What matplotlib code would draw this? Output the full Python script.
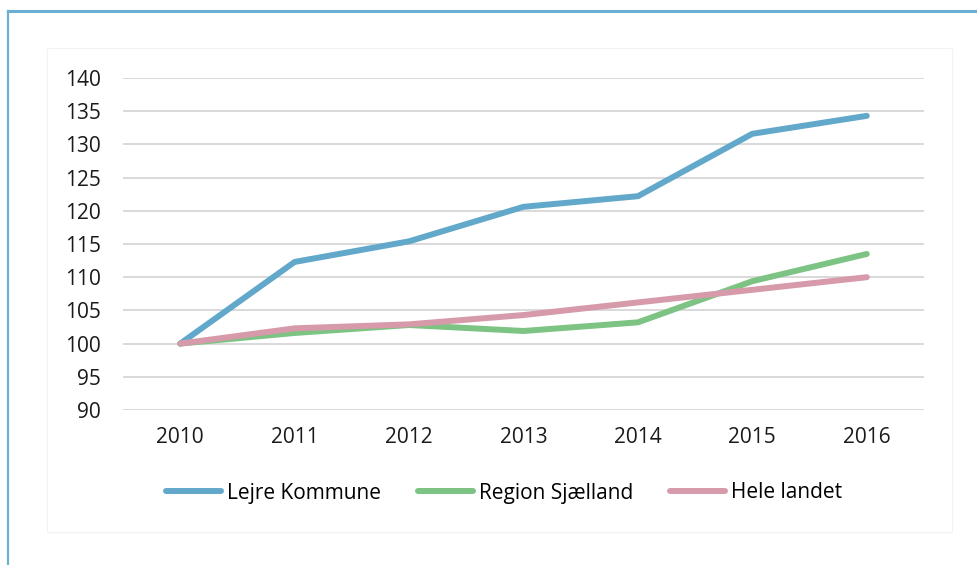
import matplotlib.pyplot as plt
from matplotlib.patches import Rectangle
from matplotlib.lines import Line2D

# Data (index, 2010 = 100)
years = ["2010", "2011", "2012", "2013", "2014", "2015", "2016"]
lejre = [100.0, 112.3, 115.4, 120.6, 122.2, 131.6, 134.3]
region = [100.0, 101.6, 102.8, 101.9, 103.2, 109.4, 113.5]
hele = [100.0, 102.3, 102.9, 104.3, 106.2, 108.1, 110.0]
series_names = ["Lejre Kommune", "Region Sjælland", "Hele landet"]
yticks = list(range(90, 141, 5))

colors = ["#62A8CB", "#7DC383", "#D79AAA"]

plt.rcParams["font.family"] = ["Open Sans", "DejaVu Sans"]

W, H = 978, 565
fig = plt.figure(figsize=(W / 100, H / 100), dpi=100)

# outer frame (top + left blue lines) and faint inner chart box, behind the axes
fig.add_artist(Line2D([8 / W, 1], [1 - 11 / H, 1 - 11 / H], color="#6BAFD3", lw=2.2,
                      transform=fig.transFigure, zorder=-5))
fig.add_artist(Line2D([8 / W, 8 / W], [0, 1 - 11 / H], color="#6BAFD3", lw=1.6,
                      transform=fig.transFigure, zorder=-5))
fig.add_artist(Rectangle((47 / W, 1 - 532 / H), (952 - 47) / W, (532 - 48) / H,
                         transform=fig.transFigure, facecolor="white",
                         edgecolor="#F2F2F2", lw=0.8, zorder=-5))

ax = fig.add_axes([123 / W, 1 - 410 / H, 801 / W, 332 / H])
ax.patch.set_alpha(0)

x = range(len(years))
for vals, name, c in zip([lejre, region, hele], series_names, colors):
    ax.plot(x, vals, color=c, lw=4.3, solid_capstyle="round",
            solid_joinstyle="round", label=name)

ax.set_xlim(-0.5, len(years) - 0.5)
ax.set_ylim(90, 140)
ax.set_yticks(yticks)
ax.set_xticks(list(x))
ax.set_xticklabels(years)
ax.grid(axis="y", color="#D9D9D9", lw=1.4)
ax.set_axisbelow(True)
for s in ax.spines.values():
    s.set_visible(False)
ax.tick_params(length=0, labelsize=15, colors="#1a1a1a")
ax.tick_params(axis="y", pad=16)
ax.tick_params(axis="x", pad=12)

handles, labels = ax.get_legend_handles_labels()
fig.legend(handles, labels, loc="center", bbox_to_anchor=(504 / W, 1 - 493 / H),
           ncol=3, frameon=False, fontsize=15, handlelength=2.65,
           handletextpad=0.25, columnspacing=1.8)

fig.savefig("out.png", dpi=100, facecolor="white")
